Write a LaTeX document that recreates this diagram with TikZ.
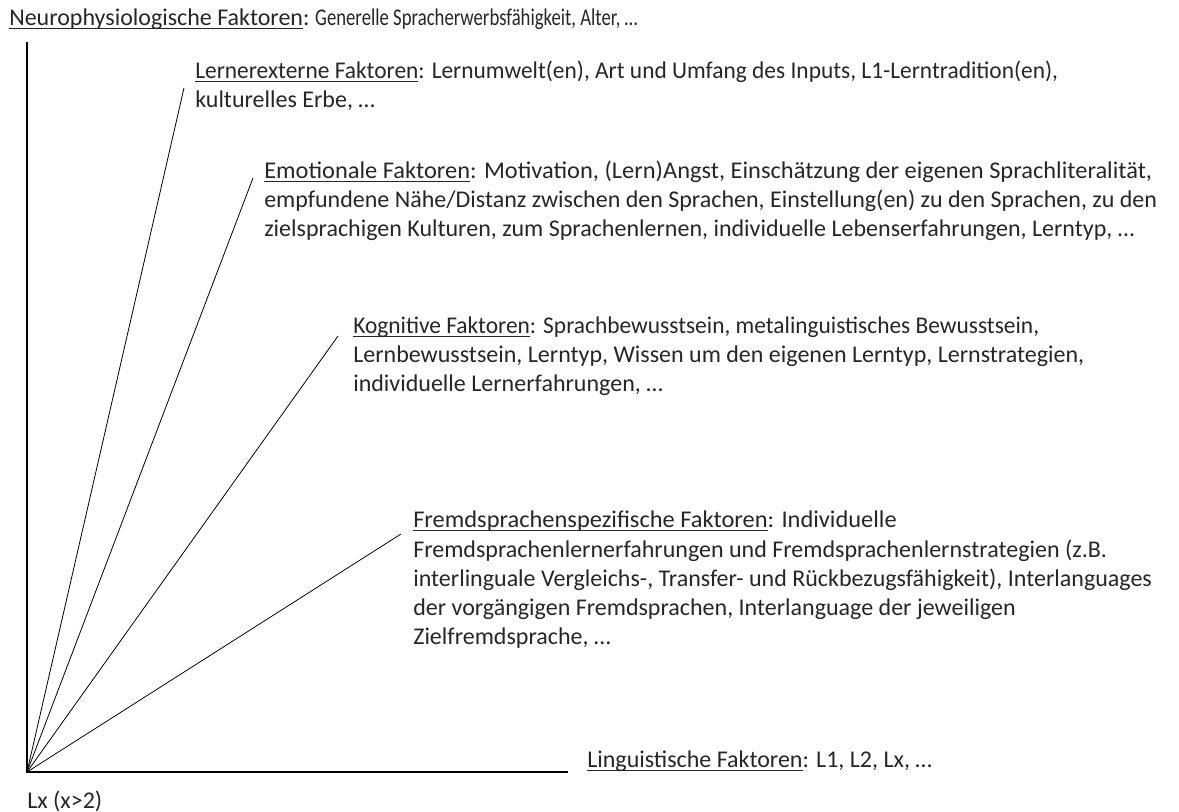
\documentclass[tikz,border=0pt]{standalone}
\usepackage{fontspec}
\setmainfont{Carlito}
\newfontfamily\eng{Carlito}[FakeStretch=0.78]
\newfontfamily\etwaseng{Carlito}[FakeStretch=0.975]
\newfontfamily\breit{Carlito}[FakeStretch=1.018]
\usetikzlibrary{positioning,
                arrows.meta,
                backgrounds}
\newcommand\unterstr[1]{\setbox0\hbox{#1}\rlap{\rule[-2.4pt]{\wd0}{0.6pt}}\box0}
\tikzset{faktor/.style={anchor=base west,inner sep=0pt,align=left,text=black!85,
                        font=\fontsize{18}{22}\selectfont},
         achse/.style={line width=1.1pt},
         strahl/.style={line width=0.6pt}}

\begin{document}
\begin{tikzpicture}[x=0.75pt,y=-0.75pt]
 \useasboundingbox (0,0) rectangle (1179,812);
 \coordinate (O) at (27,772);
 \coordinate (neuro) at (27,42);
 \coordinate (extern) at (184,88);
 \coordinate (emo) at (253,178);
 \coordinate (kogn) at (338,336);
 \coordinate (fremd) at (401,534);
 \coordinate (ling) at (568,772);
 \node[faktor] (Neuro) at (9,26) {\unterstr{Neurophysiologische Faktoren}:{\eng{} Generelle Spracherwerbsfähigkeit, Alter, …}};
 \node[faktor] (Extern) at (195,108) {\etwaseng\unterstr{Lernerexterne Faktoren}: Lernumwelt(en), Art und Umfang des Inputs, L1-Lerntradition(en),\\
   kulturelles Erbe, …};
 \node[faktor] (Emo) at (264,237) {\breit\unterstr{Emotionale Faktoren}: Motivation, (Lern)Angst, Einschätzung der eigenen Sprachliteralität,\\
   empfundene Nähe/Distanz zwischen den Sprachen, Einstellung(en) zu den Sprachen, zu den\\
   zielsprachigen Kulturen, zum Sprachenlernen, individuelle Lebenserfahrungen, Lerntyp, …};
 \node[faktor] (Kogn) at (353,392) {\etwaseng\unterstr{Kognitive Faktoren}: Sprachbewusstsein, metalinguistisches Bewusstsein,\\
   Lernbewusstsein, Lerntyp, Wissen um den eigenen Lerntyp, Lernstrategien,\\
   individuelle Lernerfahrungen, …};
 \node[faktor] (Fremd) at (413,645) {\breit\unterstr{Fremdsprachenspezifische Faktoren}: Individuelle\\
   Fremdsprachenlernerfahrungen und Fremdsprachenlernstrategien (z.B.\\
   interlinguale Vergleichs-, Transfer- und Rückbezugsfähigkeit), Interlanguages\\
   der vorgängigen Fremdsprachen, Interlanguage der jeweiligen\\
   Zielfremdsprache, …};
 \node[faktor] (Ling) at (587,768) {\unterstr{Linguistische Faktoren}: L1, L2, Lx, …};
 \node[faktor] (Lx) at (27,808) {Lx (x>2)};
 \draw[achse] (neuro) -- (O) -- (ling);
 \foreach \z in {extern,emo,kogn,fremd}
   \draw[strahl] (O) -- (\z);
\end{tikzpicture}
\end{document}
